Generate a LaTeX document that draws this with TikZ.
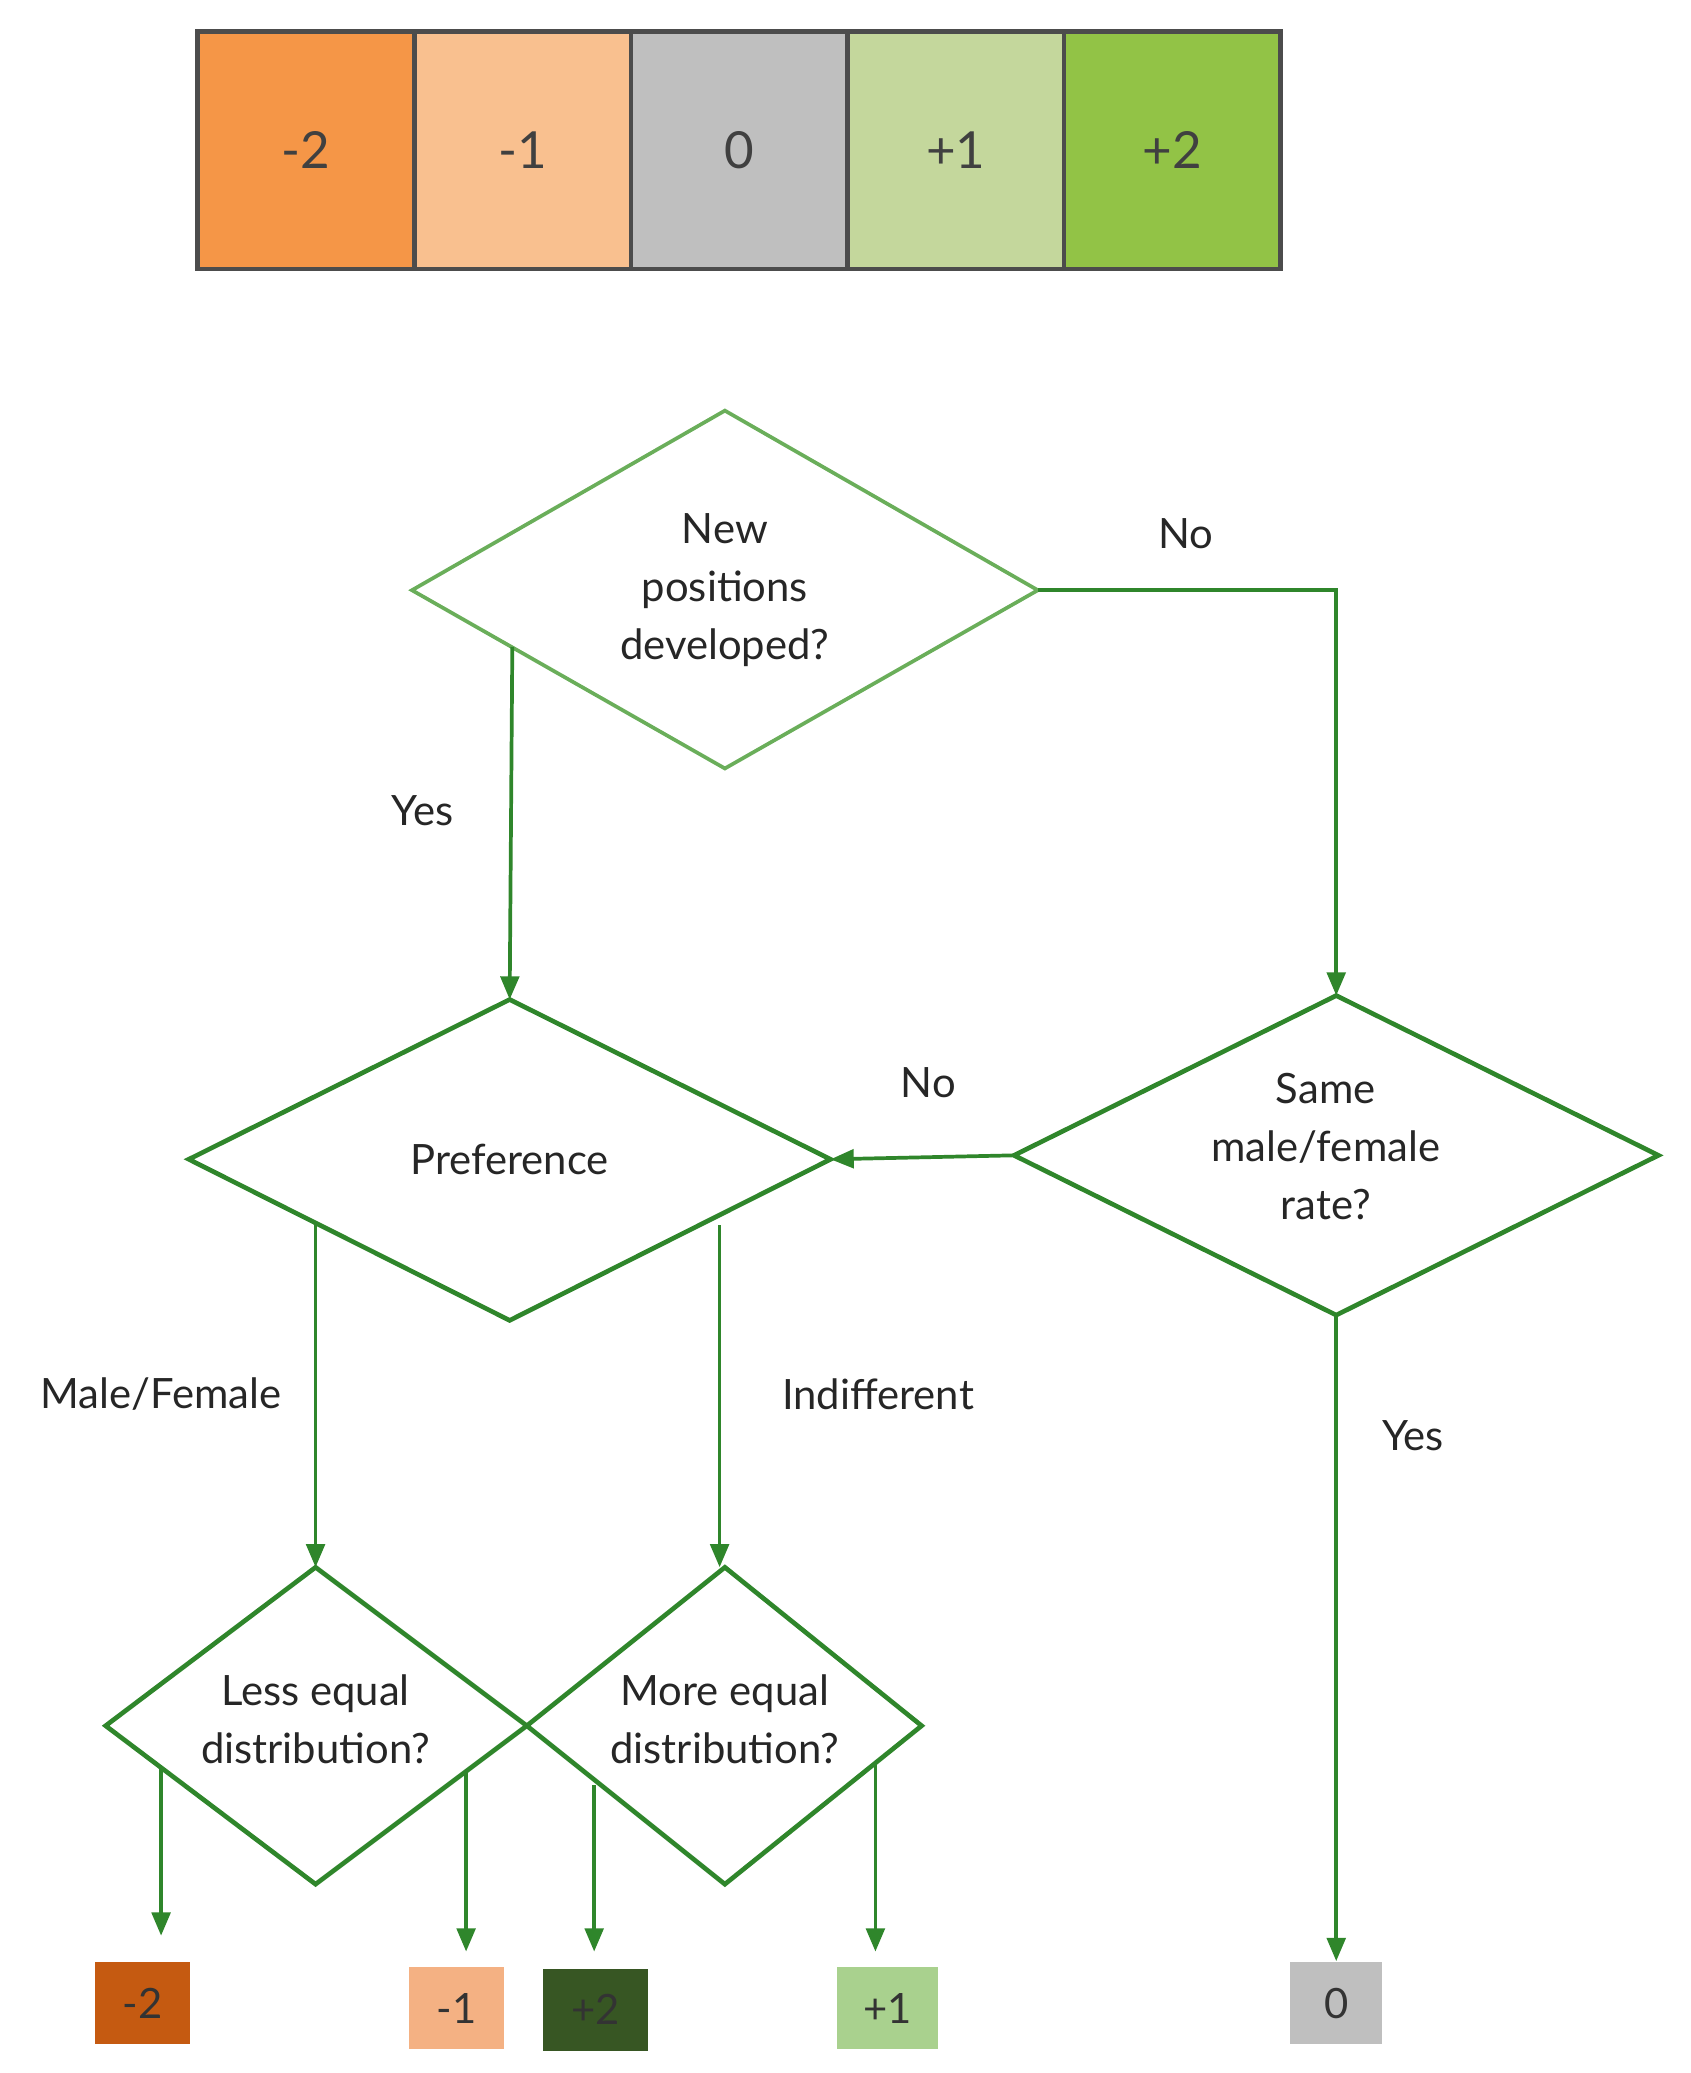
\documentclass[tikz,border=0pt]{standalone}
\usepackage{fontspec}
\setmainfont{Lato}
\usetikzlibrary{arrows.meta}
\definecolor{dg}{HTML}{2F862B}
\definecolor{lg}{HTML}{6AAE5A}
\begin{document}
\begin{tikzpicture}[x=0.01cm,y=-0.01cm,
  txt/.style={font=\fontsize{9}{12.5}\selectfont,text=black!85,align=center},
  cell/.style={draw=black!70,line width=1pt,minimum width=1.64cm,minimum height=1.8cm,anchor=north west,inner sep=0,font=\fontsize{11}{13}\selectfont,text=black!75},
  dia/.style={draw=dg,line width=1pt},
  arr/.style={draw=dg,line width=0.8pt,-{Triangle[length=5pt,width=4pt]}},
  box/.style={minimum width=0.72cm,minimum height=0.62cm,inner sep=0,font=\fontsize{9}{11}\selectfont,text=black!80}]
\useasboundingbox (0,0) rectangle (1280,1570);
% scale bar
\node[cell,fill={rgb,255:red,245;green,150;blue,71}] (c1) at (148,22) {-2};
\node[cell,fill={rgb,255:red,249;green,192;blue,143}] (c2) at (312,22) {-1};
\node[cell,fill={rgb,255:red,191;green,191;blue,191}] (c3) at (476,22) {0};
\node[cell,fill={rgb,255:red,196;green,215;blue,156}] (c4) at (640,22) {+1};
\node[cell,fill={rgb,255:red,146;green,195;blue,70}] (c5) at (804,22) {+2};
% diamonds
\coordinate (d1l) at (312,447);\coordinate (d1r) at (786,447);\coordinate (d1t) at (549,311);\coordinate (d1b) at (549,582);
\draw[draw=lg,line width=0.8pt] (d1l)--(d1t)--(d1r)--(d1b)--cycle;
\node[txt] (t1) at (549,447) {New\\positions\\developed?};
\coordinate (d2l) at (143,878);\coordinate (d2r) at (629,878);\coordinate (d2t) at (386,757);\coordinate (d2b) at (386,1000);
\draw[dia] (d2l)--(d2t)--(d2r)--(d2b)--cycle;
\node[txt] (t2) at (386,878) {Preference};
\coordinate (d3l) at (768,875);\coordinate (d3r) at (1256,875);\coordinate (d3t) at (1012,754);\coordinate (d3b) at (1012,996);
\draw[dia] (d3l)--(d3t)--(d3r)--(d3b)--cycle;
\node[txt] (t3) at (1004,868) {Same\\male/female\\rate?};
\coordinate (d4l) at (80,1307);\coordinate (d4r) at (399,1307);\coordinate (d4t) at (239,1187);\coordinate (d4b) at (239,1427);
\draw[dia] (d4l)--(d4t)--(d4r)--(d4b)--cycle;
\node[txt] (t4) at (239,1302) {Less equal\\distribution?};
\coordinate (d5l) at (399,1307);\coordinate (d5r) at (698,1307);\coordinate (d5t) at (549,1187);\coordinate (d5b) at (549,1427);
\draw[dia] (d5l)--(d5t)--(d5r)--(d5b)--cycle;
\node[txt] (t5) at (549,1302) {More equal\\distribution?};
% result boxes
\node[box,fill={rgb,255:red,197;green,90;blue,17}] (b1) at (108,1517) {-2};
\node[box,fill={rgb,255:red,244;green,177;blue,131}] (b2) at (346,1521) {-1};
\node[box,fill={rgb,255:red,55;green,86;blue,35},minimum width=0.79cm] (b3) at (451,1522) {+2};
\node[box,fill={rgb,255:red,169;green,209;blue,142},minimum width=0.76cm] (b4) at (672,1521) {+1};
\node[box,fill={rgb,255:red,191;green,191;blue,191},minimum width=0.7cm] (b5) at (1012,1517) {0};
% connectors
\coordinate (y1) at (388,490);
\draw[arr] (d1r) -- (1012,447) -- (d3t);
\draw[arr] (y1) -- (d2t);
\draw[arr] (d3l) -- (d2r);
\coordinate (m1) at (239,928);\coordinate (i1) at (545,928);
\draw[arr] (m1) -- (d4t);
\draw[arr] (i1) -- (545,1187);
\draw[arr] (d3b) -- (b5.north);
\coordinate (a1) at (122,1340);\coordinate (a2) at (353,1343);\coordinate (a3) at (450,1352);\coordinate (a4) at (663,1336);
\draw[arr] (a1) -- (122,1466);
\draw[arr] (a2) -- (353,1478);
\draw[arr] (a3) -- (450,1478);
\draw[arr] (a4) -- (663,1478);
% labels
\node[txt] (l1) at (898,404) {No};
\node[txt] (l2) at (320,614) {Yes};
\node[txt] (l3) at (703,820) {No};
\node[txt] (l4) at (122,1056) {Male/Female};
\node[txt] (l5) at (665,1056) {Indifferent};
\node[txt] (l6) at (1070,1087) {Yes};
\end{tikzpicture}
\end{document}
